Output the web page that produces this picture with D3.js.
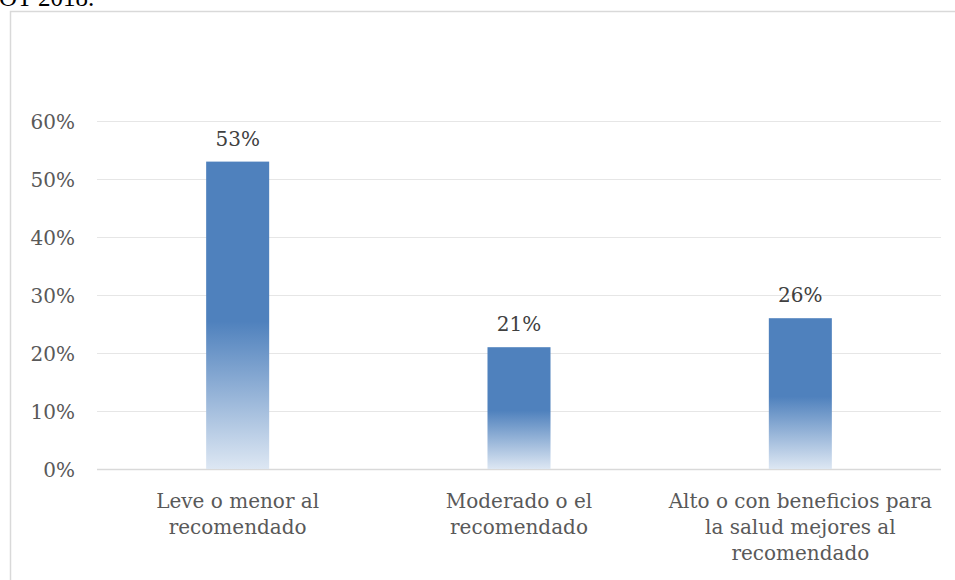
<!DOCTYPE html>
<html><head><meta charset="utf-8">
<script src="https://cdn.jsdelivr.net/npm/d3@7"></script>
<style>html,body{margin:0;padding:0;background:#fff;overflow:hidden}</style>
</head><body>
<svg id="c" width="955" height="580"></svg>
<script>
const categories = [
  ["Leve o menor al", "recomendado"],
  ["Moderado o el", "recomendado"],
  ["Alto o con beneficios para", "la salud mejores al", "recomendado"]
];
const values = [0.53, 0.21, 0.26];
const valueLabels = ["53%", "21%", "26%"];
const yTicks = [0, 0.1, 0.2, 0.3, 0.4, 0.5, 0.6];

const svg = d3.select("#c");
const font = "'DejaVu Serif', serif";

// cut-off caption text at top
svg.append("text").attr("x", -1).attr("y", 6)
  .attr("font-family", "'Liberation Serif', serif").attr("font-size", 25)
  .attr("fill", "#000").text("OT 2018.");

// chart frame
svg.append("rect").attr("x", 10.5).attr("y", 11.5).attr("width", 1000).attr("height", 700)
  .attr("fill", "none").attr("stroke", "#d9d9d9").attr("stroke-width", 1.5);

const x = d3.scaleBand().domain(d3.range(values.length)).range([97, 941]).paddingInner(0.776).paddingOuter(0.388);
const y = d3.scaleLinear().domain([0, 0.6]).range([469, 121]);

const defs = svg.append("defs");
const g = defs.append("linearGradient").attr("id", "grad").attr("x1", 0).attr("y1", 0).attr("x2", 0).attr("y2", 1);
g.append("stop").attr("offset", "0").attr("stop-color", "#4f81bd");
g.append("stop").attr("offset", "0.52").attr("stop-color", "#4f81bd");
g.append("stop").attr("offset", "1").attr("stop-color", "#dde7f3");

// gridlines
svg.append("g").selectAll("line").data(yTicks).join("line")
  .attr("x1", 97).attr("x2", 941)
  .attr("y1", d => Math.round(y(d)) + 0.5).attr("y2", d => Math.round(y(d)) + 0.5)
  .attr("stroke", d => d === 0 ? "#d9d9d9" : "#e6e6e6").attr("stroke-width", d => d === 0 ? 1.5 : 1.2);

// y labels
const yAxis = d3.axisLeft(y).tickValues(yTicks).tickFormat(d3.format(".0%")).tickSize(0).tickPadding(0);
const ya = svg.append("g").attr("transform", "translate(75,0)").call(yAxis);
ya.select(".domain").remove();
ya.selectAll("text").attr("font-family", font).attr("font-size", 20).attr("fill", "#595959").attr("dy", "0.36em");

// bars
svg.append("g").selectAll("rect").data(values).join("rect")
  .attr("x", (d, i) => x(i)).attr("width", x.bandwidth())
  .attr("y", d => y(d)).attr("height", d => y(0) - y(d))
  .attr("fill", "url(#grad)");

// value labels
svg.append("g").selectAll("text").data(values).join("text")
  .attr("x", (d, i) => x(i) + x.bandwidth() / 2).attr("y", d => y(d) - 16)
  .attr("text-anchor", "middle").attr("font-family", font).attr("font-size", 20).attr("fill", "#404040")
  .text((d, i) => valueLabels[i]);

// category labels
const cg = svg.append("g").selectAll("text").data(categories).join("text")
  .attr("text-anchor", "middle").attr("font-family", font).attr("font-size", 20).attr("fill", "#595959");
cg.each(function(lines, i) {
  d3.select(this).selectAll("tspan").data(lines).join("tspan")
    .attr("x", x(i) + x.bandwidth() / 2).attr("y", (l, j) => 508 + j * 26).text(l => l);
});
</script>
</body></html>
